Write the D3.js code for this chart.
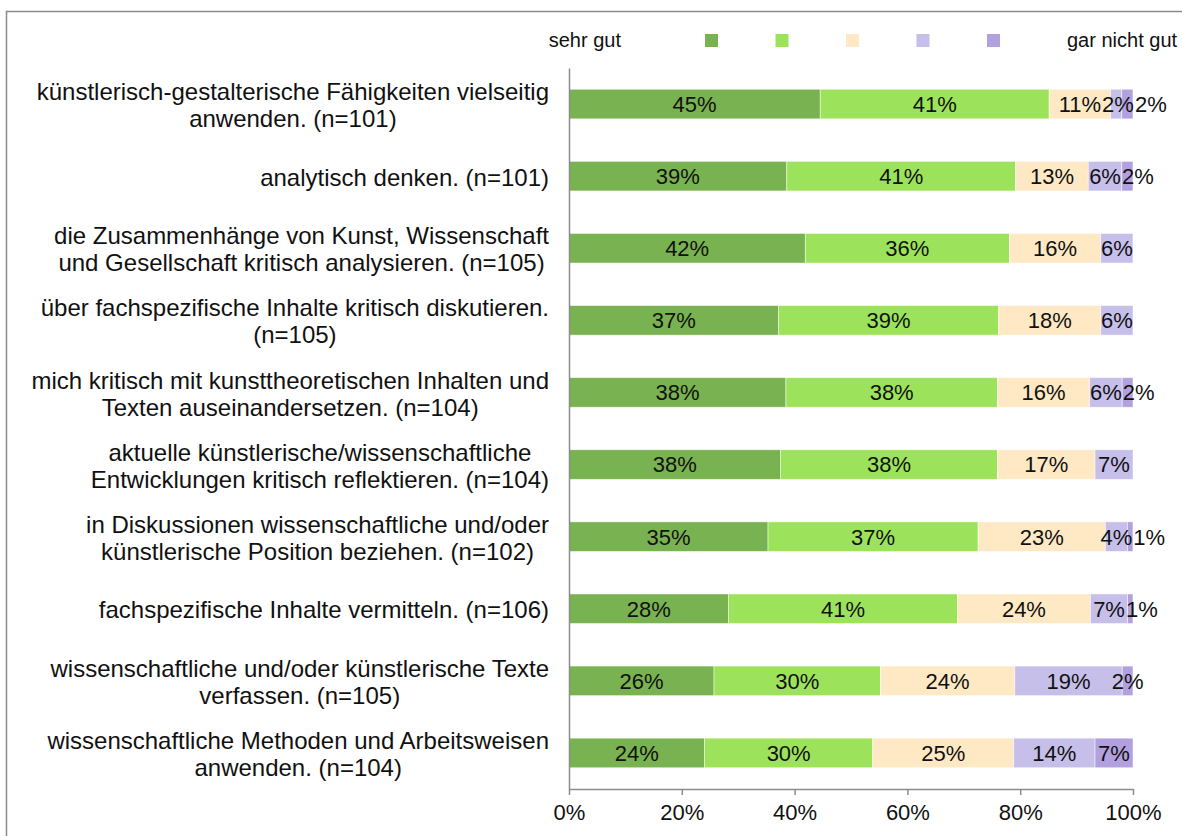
<!DOCTYPE html>
<html>
<head>
<meta charset="utf-8">
<script src="https://cdn.jsdelivr.net/npm/d3@7"></script>
<style>
  html, body { margin: 0; padding: 0; background: #fff; }
  svg { display: block; font-family: "Liberation Sans", Arial, sans-serif; }
</style>
</head>
<body>
<svg id="chart" width="1182" height="836"></svg>
<script>
// ---------- data ----------
const categories = [
  "künstlerisch-gestalterische Fähigkeiten vielseitig\nanwenden. (n=101)",
  "analytisch denken. (n=101)",
  "die Zusammenhänge von Kunst, Wissenschaft\nund Gesellschaft kritisch analysieren. (n=105)",
  "über fachspezifische Inhalte kritisch diskutieren.\n(n=105)",
  "mich kritisch mit kunsttheoretischen Inhalten und\nTexten auseinandersetzen. (n=104)",
  "aktuelle künstlerische/wissenschaftliche\nEntwicklungen kritisch reflektieren. (n=104)",
  "in Diskussionen wissenschaftliche und/oder\nkünstlerische Position beziehen. (n=102)",
  "fachspezifische Inhalte vermitteln. (n=106)",
  "wissenschaftliche und/oder künstlerische Texte\nverfassen. (n=105)",
  "wissenschaftliche Methoden und Arbeitsweisen\nanwenden. (n=104)"
];
const seriesNames = ["sehr gut", "gut", "mittel", "weniger gut", "gar nicht gut"];
const sehrGut   = [44.55, 38.61, 41.90, 37.14, 38.46, 37.50, 35.29, 28.30, 25.71, 24.04];
const gut       = [40.59, 40.59, 36.19, 39.05, 37.50, 38.46, 37.25, 40.57, 29.52, 29.81];
const mittel    = [10.89, 12.87, 16.19, 18.10, 16.35, 17.31, 22.55, 23.58, 23.81, 25.00];
const wenigerGut= [1.98, 5.94, 5.71, 5.71, 5.77, 6.73, 3.92, 6.60, 19.05, 14.42];
const garNicht  = [1.98, 1.98, 0, 0, 1.92, 0, 0.98, 0.94, 1.90, 6.73];
const tickValues = [0, 20, 40, 60, 80, 100];
const legendLeft = "sehr gut";
const legendRight = "gar nicht gut";

const colors = ["#79b250", "#9ce35b", "#fee9c4", "#c6bfe9", "#b3a0df"];

// ---------- layout ----------
const svg = d3.select("#chart");
const m = { left: 569, right: 1133, top: 68, bottom: 789 };

// chart border
svg.append("rect")
  .attr("x", 6.5).attr("y", 11.5)
  .attr("width", 1300).attr("height", 1000)
  .attr("fill", "none").attr("stroke", "#8a8a8a").attr("stroke-width", 1.5);

const x = d3.scaleLinear().domain([0, 100]).range([m.left, m.right]);
const y = d3.scaleBand().domain(d3.range(categories.length)).range([m.top, m.bottom]).paddingInner(0.59).paddingOuter(0.295);

const seriesVals = [sehrGut, gut, mittel, wenigerGut, garNicht];
const table = categories.map((c, i) => {
  const o = { idx: i };
  seriesNames.forEach((s, k) => o[s] = seriesVals[k][i]);
  return o;
});
const stacked = d3.stack().keys(seriesNames)(table);

// bars
const gBars = svg.append("g");
stacked.forEach((layer, k) => {
  gBars.selectAll(null).data(layer.filter(d => d[1] - d[0] > 0)).enter()
    .append("rect")
    .attr("x", d => x(d[0]))
    .attr("y", d => y(d.data.idx))
    .attr("width", d => x(d[1]) - x(d[0]))
    .attr("height", y.bandwidth())
    .attr("fill", colors[k])
    .attr("stroke", "#ffffff").attr("stroke-opacity", 0.6).attr("stroke-width", 0.8);
});

// data labels with simple collision avoidance
const gLab = svg.append("g").attr("font-size", 22).attr("fill", "#111");
categories.forEach((c, i) => {
  let prevRight = -Infinity;
  stacked.forEach((layer, k) => {
    const d = layer[i];
    const v = d[1] - d[0];
    if (v <= 0) return;
    const t = gLab.append("text")
      .attr("text-anchor", "middle")
      .attr("y", y(i) + y.bandwidth() / 2)
      .attr("dy", "0.36em")
      .text(Math.round(v) + "%");
    const w = t.node().getComputedTextLength();
    let cx = (x(d[0]) + x(d[1])) / 2;
    if (cx - w / 2 < prevRight + 1) cx = prevRight + 1 + w / 2;
    t.attr("x", cx);
    prevRight = cx + w / 2;
  });
});

// axes
const axisColor = "#8c8c8c";
const xAxis = svg.append("g").attr("transform", `translate(0,${m.bottom})`)
  .call(d3.axisBottom(x).tickValues(tickValues).tickSize(6).tickSizeOuter(0).tickFormat(d => d + "%"));
xAxis.select(".domain").attr("stroke", axisColor).attr("stroke-width", 1.5);
xAxis.selectAll(".tick line").attr("stroke", axisColor).attr("stroke-width", 1.5);
xAxis.selectAll(".tick text").attr("font-size", 22).attr("fill", "#111")
  .attr("y", 15).attr("dy", "0.71em")
  .attr("font-family", "Liberation Sans, Arial, sans-serif");

const yAxis = svg.append("g").attr("transform", `translate(${m.left},0)`)
  .call(d3.axisLeft(y).tickSize(0).tickFormat(""));
yAxis.select(".domain").attr("stroke", axisColor).attr("stroke-width", 1.5);

// category labels: lines centered with each other, block right-aligned
const labelRight = 549;
const lineH = 27;
const gCat = svg.append("g").attr("font-size", 24).attr("fill", "#111");
categories.forEach((c, i) => {
  const lines = c.split("\n");
  const cy = y(i) + y.bandwidth() / 2 + 1;
  const texts = lines.map((ln, j) => gCat.append("text")
    .attr("text-anchor", "middle")
    .attr("y", cy + (j - (lines.length - 1) / 2) * lineH)
    .attr("dy", "0.36em")
    .text(ln));
  const maxW = d3.max(texts, t => t.node().getComputedTextLength());
  texts.forEach(t => t.attr("x", labelRight - maxW / 2));
});

// legend
const gLeg = svg.append("g").attr("font-size", 20).attr("fill", "#111");
gLeg.append("text").attr("x", 621).attr("y", 40).attr("dy", "0.36em").attr("text-anchor", "end").text(legendLeft);
gLeg.append("text").attr("x", 1067).attr("y", 40).attr("dy", "0.36em").attr("text-anchor", "start").text(legendRight);
const legX = d3.scalePoint().domain(seriesNames).range([705, 987]);
gLeg.selectAll("rect").data(seriesNames).enter().append("rect")
  .attr("x", d => legX(d)).attr("y", 34).attr("width", 13).attr("height", 13)
  .attr("fill", (d, k) => colors[k]);
</script>
</body>
</html>
